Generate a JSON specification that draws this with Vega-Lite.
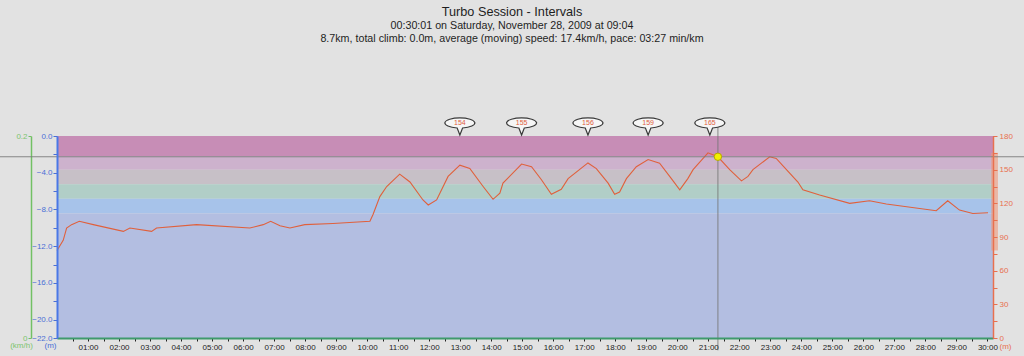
{
  "$schema": "https://vega.github.io/schema/vega-lite/v6.json",
  "width": 936,
  "height": 202,
  "autosize": {"type": "none"},
  "padding": {"left": 57, "top": 136, "right": 31, "bottom": 18},
  "background": "#e2e2e2",
  "config": {
    "font": "Liberation Sans",
    "view": {"stroke": "#7d5a78", "strokeWidth": 1}
  },
  "title": {
    "text": "Turbo Session - Intervals",
    "subtitle": ["00:30:01 on Saturday, November 28, 2009 at 09:04", "8.7km, total climb: 0.0m, average (moving) speed: 17.4km/h, pace: 03:27 min/km"],
    "anchor": "middle",
    "frame": "group",
    "dx": -13,
    "offset": 72,
    "font": "Liberation Sans",
    "fontSize": 12.7,
    "fontWeight": "normal",
    "color": "#1e1e1e",
    "subtitleFont": "Liberation Sans",
    "subtitleFontSize": 10.7,
    "subtitleColor": "#1e1e1e",
    "subtitleLineHeight": 12.7,
    "subtitlePadding": 2
  },
  "datasets": {
    "zones": [
      {"zone": "z5", "lo": 162, "hi": 180},
      {"zone": "z4", "lo": 150, "hi": 162},
      {"zone": "z3", "lo": 137, "hi": 150},
      {"zone": "z2", "lo": 124, "hi": 137},
      {"zone": "z1", "lo": 111, "hi": 124},
      {"zone": "z0", "lo": 0, "hi": 111}
    ],
    "hr": [
      {"t": 0, "hr": 78}, {"t": 0.2, "hr": 87}, {"t": 0.31, "hr": 98}, {"t": 0.47, "hr": 101}, {"t": 0.72, "hr": 104},
      {"t": 1.17, "hr": 101}, {"t": 2.14, "hr": 95}, {"t": 2.35, "hr": 98}, {"t": 3.05, "hr": 95}, {"t": 3.21, "hr": 98},
      {"t": 4.5, "hr": 101}, {"t": 6.22, "hr": 98}, {"t": 6.65, "hr": 101}, {"t": 6.89, "hr": 104}, {"t": 7.19, "hr": 100},
      {"t": 7.51, "hr": 98}, {"t": 7.99, "hr": 101}, {"t": 8.9, "hr": 102}, {"t": 10.09, "hr": 104}, {"t": 10.19, "hr": 110},
      {"t": 10.41, "hr": 126}, {"t": 10.63, "hr": 135}, {"t": 11.05, "hr": 146}, {"t": 11.38, "hr": 139}, {"t": 11.8, "hr": 123},
      {"t": 11.97, "hr": 118.5}, {"t": 12.24, "hr": 123}, {"t": 12.61, "hr": 144}, {"t": 12.99, "hr": 154}, {"t": 13.31, "hr": 151},
      {"t": 13.74, "hr": 135}, {"t": 14.06, "hr": 123.6}, {"t": 14.28, "hr": 129}, {"t": 14.38, "hr": 138}, {"t": 14.98, "hr": 155},
      {"t": 15.3, "hr": 152.6}, {"t": 15.62, "hr": 141}, {"t": 15.94, "hr": 128}, {"t": 16.26, "hr": 132.5}, {"t": 16.48, "hr": 142},
      {"t": 17.12, "hr": 156}, {"t": 17.39, "hr": 151}, {"t": 17.77, "hr": 138}, {"t": 17.98, "hr": 128}, {"t": 18.14, "hr": 130},
      {"t": 18.36, "hr": 142}, {"t": 18.68, "hr": 152.6}, {"t": 19.06, "hr": 159}, {"t": 19.43, "hr": 155.7}, {"t": 19.81, "hr": 142},
      {"t": 20.08, "hr": 132}, {"t": 20.34, "hr": 142}, {"t": 20.51, "hr": 150}, {"t": 20.99, "hr": 165}, {"t": 21.31, "hr": 161.5},
      {"t": 21.69, "hr": 150}, {"t": 22.07, "hr": 140}, {"t": 22.28, "hr": 144}, {"t": 22.44, "hr": 150}, {"t": 22.98, "hr": 161.5},
      {"t": 23.19, "hr": 160}, {"t": 23.52, "hr": 150}, {"t": 23.89, "hr": 139}, {"t": 24.05, "hr": 132}, {"t": 24.59, "hr": 127.4},
      {"t": 25.56, "hr": 120}, {"t": 26.2, "hr": 122.3}, {"t": 26.74, "hr": 119.4}, {"t": 28.35, "hr": 113.4}, {"t": 28.72, "hr": 122.3},
      {"t": 29.1, "hr": 114}, {"t": 29.53, "hr": 111}, {"t": 30.02, "hr": 111.6}
    ],
    "peaks": [
      {"t": 12.99, "level": 191.6, "label": "154"},
      {"t": 14.98, "level": 191.6, "label": "155"},
      {"t": 17.12, "level": 191.6, "label": "156"},
      {"t": 19.06, "level": 191.6, "label": "159"},
      {"t": 21.05, "level": 191.6, "label": "165"}
    ],
    "cursor": [{"t": 21.31, "hr": 161.5, "t0": -1.9, "t1": 31.3, "top": 188, "bottom": -11}],
    "hrspan": [{"t0": 30.12, "t1": 30.34, "lowest": 78, "highest": 165}],
    "depth": [{"depth": 0}, {"depth": -22}],
    "speed": [{"speed": 0}, {"speed": 0.2}]
  },
  "layer": [
    {
      "layer": [
        {
          "data": {"name": "zones"},
          "mark": {"type": "rect"},
          "encoding": {
            "y": {
              "field": "lo", "type": "quantitative",
              "scale": {"domain": [0, 180], "nice": false, "zero": false},
              "axis": null
            },
            "y2": {"field": "hi"},
            "color": {
              "field": "zone", "type": "nominal", "legend": null,
              "scale": {
                "domain": ["z5", "z4", "z3", "z2", "z1", "z0"],
                "range": ["#c78db6", "#cdb2cd", "#c7c0c7", "#b1cec7", "#a7c3ea", "#b3bee1"]
              }
            }
          }
        },
        {
          "data": {"name": "hrspan"},
          "mark": {"type": "rect", "color": "#f09a7c", "opacity": 0.6, "clip": false},
          "encoding": {
            "x": {"field": "t0", "type": "quantitative", "scale": {"domain": [0, 30.18], "nice": false, "zero": false}, "axis": null},
            "x2": {"field": "t1"},
            "y": {"field": "lowest", "type": "quantitative", "scale": {"domain": [0, 180], "nice": false, "zero": false}, "axis": null},
            "y2": {"field": "highest"}
          }
        }
      ]
    },
    {
      "data": {"name": "hr"},
      "mark": {"type": "line", "color": "#e0603c", "strokeWidth": 1.1},
      "encoding": {
        "x": {
          "field": "t", "type": "quantitative",
          "scale": {"domain": [0, 30.18], "nice": false, "zero": false},
          "axis": {
            "orient": "bottom",
            "title": "(m)", "titleAngle": 0, "titleX": 948, "titleY": 8, "titleBaseline": "middle",
            "titleFontSize": 8, "titleFontWeight": "normal", "titleColor": "#e8704f",
            "values": [0.5, 1, 1.5, 2, 2.5, 3, 3.5, 4, 4.5, 5, 5.5, 6, 6.5, 7, 7.5, 8, 8.5, 9, 9.5, 10, 10.5, 11, 11.5, 12, 12.5, 13, 13.5, 14, 14.5, 15, 15.5, 16, 16.5, 17, 17.5, 18, 18.5, 19, 19.5, 20, 20.5, 21, 21.5, 22, 22.5, 23, 23.5, 24, 24.5, 25, 25.5, 26, 26.5, 27, 27.5, 28, 28.5, 29, 29.5, 30],
            "labelExpr": "datum.value % 1 == 0 ? (datum.value < 10 ? '0' : '') + datum.value + ':00' : ''",
            "domainColor": "#3f9a6c", "domainWidth": 2,
            "tickColor": "#222222", "tickSize": 3,
            "labelColor": "#222222", "labelFontSize": 8, "labelPadding": 2,
            "labelOverlap": false, "labelFlush": false,
            "grid": false, "zindex": 1
          }
        },
        "y": {
          "field": "hr", "type": "quantitative",
          "scale": {"domain": [0, 180], "nice": false, "zero": false},
          "axis": {
            "orient": "right", "title": null,
            "values": [0, 15, 30, 45, 60, 75, 90, 105, 120, 135, 150, 165, 180],
            "labelExpr": "datum.value % 30 == 0 ? datum.value : ''",
            "domainColor": "#e8704f", "domainWidth": 1.5,
            "tickColor": "#e8704f", "tickSize": 4,
            "labelColor": "#e8704f", "labelFontSize": 8, "labelPadding": 2,
            "grid": false, "zindex": 1
          }
        }
      }
    },
    {
      "data": {"name": "cursor"},
      "mark": {"type": "rule", "color": "#777777", "strokeWidth": 1, "opacity": 0.85, "clip": false},
      "encoding": {
        "x": {"field": "t0", "type": "quantitative", "scale": {"domain": [0, 30.18], "nice": false, "zero": false}, "axis": null},
        "x2": {"field": "t1"},
        "y": {"field": "hr", "type": "quantitative", "scale": {"domain": [0, 180], "nice": false, "zero": false}, "axis": null}
      }
    },
    {
      "data": {"name": "cursor"},
      "mark": {"type": "rule", "color": "#777777", "strokeWidth": 1, "opacity": 0.85, "clip": false},
      "encoding": {
        "x": {"field": "t", "type": "quantitative", "scale": {"domain": [0, 30.18], "nice": false, "zero": false}, "axis": null},
        "y": {"field": "top", "type": "quantitative", "scale": {"domain": [0, 180], "nice": false, "zero": false}, "axis": null},
        "y2": {"field": "bottom"}
      }
    },
    {
      "data": {"name": "cursor"},
      "mark": {"type": "point", "filled": true, "color": "#f2f000", "stroke": "#b5a800", "strokeWidth": 1, "size": 55, "opacity": 1},
      "encoding": {
        "x": {"field": "t", "type": "quantitative", "scale": {"domain": [0, 30.18], "nice": false, "zero": false}, "axis": null},
        "y": {"field": "hr", "type": "quantitative", "scale": {"domain": [0, 180], "nice": false, "zero": false}, "axis": null}
      }
    },
    {
      "data": {"name": "peaks"},
      "mark": {
        "type": "point", "filled": true, "clip": false,
        "shape": "M 0.18 0.334 A 1 0.34 0 1 0 -0.18 0.334 L 0 0.8 Z",
        "size": 900, "fill": "#f6f6f6", "stroke": "#3a3a3a", "strokeWidth": 1.2, "opacity": 1, "fillOpacity": 1
      },
      "encoding": {
        "x": {"field": "t", "type": "quantitative", "scale": {"domain": [0, 30.18], "nice": false, "zero": false}, "axis": null},
        "y": {"field": "level", "type": "quantitative", "scale": {"domain": [0, 180], "nice": false, "zero": false}, "axis": null}
      }
    },
    {
      "data": {"name": "peaks"},
      "mark": {"type": "text", "color": "#e0603c", "fontSize": 7, "align": "center", "baseline": "middle", "clip": false},
      "encoding": {
        "x": {"field": "t", "type": "quantitative", "scale": {"domain": [0, 30.18], "nice": false, "zero": false}, "axis": null},
        "y": {"field": "level", "type": "quantitative", "scale": {"domain": [0, 180], "nice": false, "zero": false}, "axis": null},
        "text": {"field": "label"}
      }
    },
    {
      "data": {"name": "depth"},
      "mark": {"type": "rule", "strokeOpacity": 0},
      "encoding": {
        "y": {
          "field": "depth", "type": "quantitative",
          "scale": {"domain": [-22, 0], "nice": false, "zero": false},
          "axis": {
            "orient": "left", "offset": 0,
            "title": "(m)", "titleAngle": 0, "titleX": -7, "titleY": 209, "titleAlign": "center", "titleBaseline": "middle",
            "titleFontSize": 8, "titleFontWeight": "normal", "titleColor": "#4a6fd6",
            "values": [0, -2, -4, -6, -8, -10, -12, -14, -16, -18, -20, -22],
            "labelExpr": "(datum.value % 4 == 0 || datum.value == -22) ? format(datum.value, '.1f') : ''",
            "domainColor": "#4a78e6", "domainWidth": 2,
            "tickColor": "#4a6fd6", "tickSize": 4,
            "labelColor": "#4a6fd6", "labelFontSize": 8, "labelPadding": 1,
            "grid": false, "zindex": 1
          }
        }
      }
    },
    {
      "data": {"name": "speed"},
      "mark": {"type": "rule", "strokeOpacity": 0},
      "encoding": {
        "y": {
          "field": "speed", "type": "quantitative",
          "scale": {"domain": [0, 0.2], "nice": false, "zero": false},
          "axis": {
            "orient": "left", "offset": 26,
            "title": "(km/h)", "titleAngle": 0, "titleX": -10, "titleY": 209, "titleAlign": "center", "titleBaseline": "middle",
            "titleFontSize": 8, "titleFontWeight": "normal", "titleColor": "#7cc46e",
            "values": [0, 0.2],
            "labelExpr": "datum.value == 0 ? '0' : format(datum.value, '.1f')",
            "domainColor": "#72c064", "domainWidth": 1.5,
            "tickColor": "#72c064", "tickSize": 3,
            "labelColor": "#7cc46e", "labelFontSize": 8, "labelPadding": 1,
            "grid": false
          }
        }
      }
    }
  ],
  "resolve": {"scale": {"y": "independent"}, "axis": {"x": "independent", "y": "independent"}}
}
